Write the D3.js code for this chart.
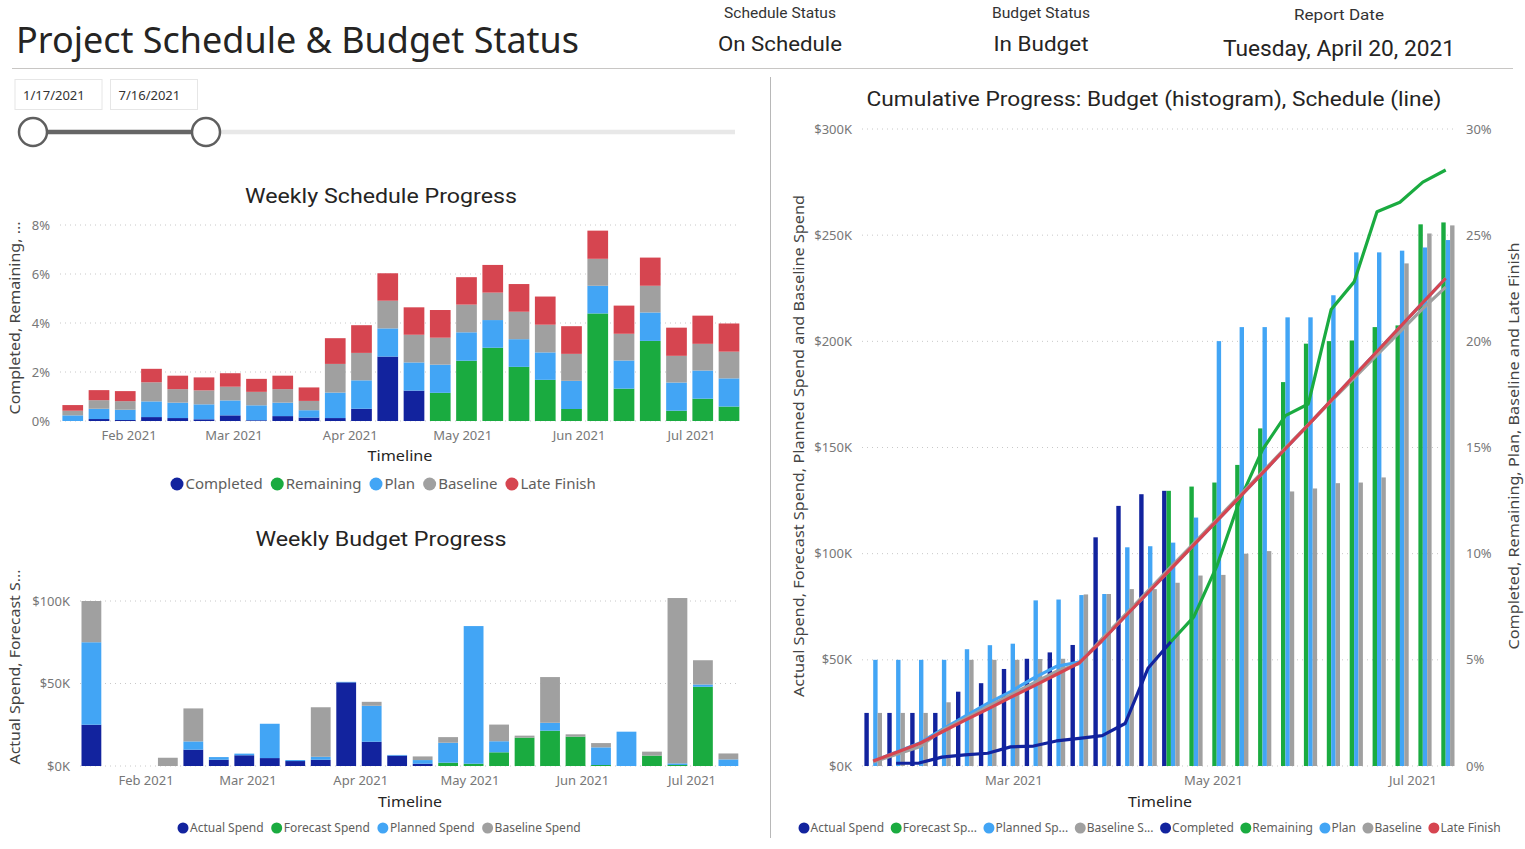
<!DOCTYPE html>
<html><head><meta charset="utf-8">
<script src="https://cdn.jsdelivr.net/npm/d3@7"></script>
<style>
body{margin:0;background:#fff;}
svg{display:block;}
text{font-family:"Segoe UI","Noto Sans",sans-serif;}
.din{font-family:"Roboto","DejaVu Sans Condensed",sans-serif;}
</style></head><body>
<svg id="c" width="1525" height="849"></svg>
<script>
// ---------------- DATA ----------------
const weeks = ["2021-01-17","2021-01-24","2021-01-31","2021-02-07","2021-02-14","2021-02-21","2021-02-28","2021-03-07","2021-03-14","2021-03-21","2021-03-28","2021-04-04","2021-04-11","2021-04-18","2021-04-25","2021-05-02","2021-05-09","2021-05-16","2021-05-23","2021-05-30","2021-06-06","2021-06-13","2021-06-20","2021-06-27","2021-07-04","2021-07-11"];

// Weekly schedule progress (%)
const completedW = [0,0.08,0.04,0.16,0.12,0.07,0.23,0.03,0.2,0.14,0.12,0.5,2.63,1.24,null,null,null,null,null,null,null,null,null,null,null,null];
const remainingW = [null,null,null,null,null,null,null,null,null,null,null,null,null,null,1.15,2.46,2.99,2.21,1.68,0.49,4.39,1.32,3.27,0.42,0.91,0.59];
const planW      = [0.23,0.42,0.42,0.64,0.63,0.61,0.61,0.61,0.55,0.3,1.04,1.16,1.15,1.15,1.15,1.16,1.13,1.13,1.12,1.15,1.13,1.15,1.16,1.15,1.15,1.15];
const baselineW  = [0.19,0.35,0.35,0.78,0.55,0.57,0.56,0.55,0.55,0.38,1.17,1.12,1.13,1.13,1.1,1.13,1.12,1.12,1.13,1.1,1.1,1.09,1.09,1.09,1.09,1.09];
const lateW      = [0.23,0.41,0.41,0.55,0.55,0.53,0.55,0.53,0.55,0.55,1.05,1.13,1.12,1.12,1.13,1.12,1.13,1.13,1.15,1.13,1.15,1.15,1.15,1.15,1.15,1.15];

// Weekly budget progress ($K)
const actualSpendW   = [25,0,0,0,9.9,3.8,6.5,4.8,3,3.8,50.7,14.7,6.3,1.4,null,null,null,null,null,null,null,null,null,null,null,null];
const forecastSpendW = [null,null,null,null,null,null,null,null,null,null,null,null,null,null,2,1.4,8.3,17.2,21.4,17.8,0.6,0,6.3,0.6,48,0];
const plannedSpendW  = [50,0,0,0,5,1.6,1,20.8,0.6,1.8,0.3,21.8,0.4,2.2,12.1,83.4,6.7,0,4.8,0,10.7,20.8,0,1,1.4,4];
const baselineSpendW = [25,0,0,5,20,0,0,0,0,30,0,2.4,0,2.2,3.4,0,10.1,1.2,27.7,1.4,2.6,0,2.4,100.2,14.7,3.6];

// Cumulative budget ($K)
const actualSpendC   = [25,25,25,25,35,39,45.7,50.5,53.5,57,107.7,122.5,128,129.6,null,null,null,null,null,null,null,null,null,null,null,null];
const forecastSpendC = [null,null,null,null,null,null,null,null,null,null,null,null,null,129.6,131.6,133.5,141.8,159,180.8,198.9,200.1,200.4,206.7,207.5,255.1,256];
const plannedSpendC  = [50,50,50,50,55,56.9,57.6,78,78.4,80.5,81,103,103.5,105.2,117,200.1,206.7,206.7,211.3,211.3,221.7,241.9,241.9,242.7,244.2,247.7];
const baselineSpendC = [25,25,25,30,50,50,50,50.4,50.5,80.8,81,83.3,83.3,86.3,89.7,90,100,101.2,129.3,130.7,133.2,133.5,135.9,236.7,250.8,254.6];

// Cumulative schedule (%)
const completedC = [null,0.13,0.14,0.42,0.52,0.6,0.9,0.94,1.18,1.3,1.43,2.0,4.6,5.85,null,null,null,null,null,null,null,null,null,null,null,null];
const remainingC = [null,null,null,null,null,null,null,null,null,null,null,null,null,5.85,7.02,9.4,12.5,14.9,16.5,17.05,21.5,22.8,26.1,26.55,27.5,28.07];
const planC      = [0.23,0.65,1.07,1.71,2.34,2.95,3.5,4.14,4.69,4.9,5.91,7.04,8.16,9.28,10.41,11.53,12.66,13.79,14.94,16.07,17.22,18.37,19.52,20.67,21.82,22.97];
const baselineC  = [0.19,0.54,0.89,1.67,2.22,2.79,3.35,3.9,4.45,4.83,6.0,7.12,8.25,9.38,10.48,11.61,12.73,13.85,14.98,16.08,17.18,18.27,19.36,20.45,21.54,22.55];
const lateC      = [0.23,0.64,1.05,1.6,2.15,2.68,3.23,3.76,4.31,4.86,5.91,7.04,8.16,9.28,10.41,11.53,12.66,13.79,14.94,16.07,17.22,18.37,19.52,20.67,21.82,22.97];

const schedTicks = [0,2,4,6,8];
const budgetTicks = [0,50,100];
const cumLeftTicks = [0,50,100,150,200,250,300];
const cumRightTicks = [0,5,10,15,20,25,30];

const C = {dark:"#12239E", green:"#1AAB40", blue:"#42A5F5", gray:"#A0A0A0", red:"#D64550"};

// ---------------- HELPERS ----------------
const svg = d3.select("#c");
svg.append("rect").attr("width",1525).attr("height",849).attr("fill","#fff");
const parse = d3.timeParse("%Y-%m-%d");
const dates = weeks.map(parse);
const fmtMonth = d3.timeFormat("%b %Y");

function fit(sel, w){ sel.attr("textLength", w).attr("lengthAdjust","spacingAndGlyphs"); return sel; }
function txt(x,y,s,size,fill,anchor,cls){
  const t = svg.append("text").attr("x",x).attr("y",y).attr("font-size",size).attr("fill",fill)
    .attr("text-anchor",anchor||"start").text(s);
  if(cls) t.attr("class",cls);
  return t;
}
function legend(items, x0, y, fs, r, tOff, gap){
  let x = x0;
  items.forEach(it=>{
    svg.append("circle").attr("cx",x).attr("cy",y).attr("r",r).attr("fill",it.color);
    const t = svg.append("text").attr("x",x+tOff).attr("y",y).attr("dy","0.35em")
      .attr("font-size",fs).attr("fill","#605E5C").text(it.label);
    x = x + tOff + t.node().getComputedTextLength() + gap;
  });
}
function vtitle(x, yc, s, size, len){
  const t = svg.append("text").attr("transform",`translate(${x},${yc}) rotate(-90)`)
    .attr("text-anchor","middle").attr("dominant-baseline","central")
    .attr("font-size",size).attr("fill","#444").text(s);
  if(len) fit(t,len);
}
function grid(ys, x1, x2){
  ys.forEach(y=>svg.append("line").attr("x1",x1).attr("x2",x2).attr("y1",y).attr("y2",y)
    .attr("stroke","#c8c8c8").attr("stroke-width",1).attr("stroke-dasharray","1,4"));
}

// ---------------- HEADER ----------------
fit(txt(16,53,"Project Schedule & Budget Status",37,"#252423"),563);
fit(txt(780,18,"Schedule Status",14,"#333","middle","din"),112);
fit(txt(780,51,"On Schedule",21,"#252423","middle","din"),124);
fit(txt(1041,18,"Budget Status",14,"#333","middle","din"),98);
fit(txt(1041,51,"In Budget",21,"#252423","middle","din"),95);
fit(txt(1339,20,"Report Date",14,"#333","middle","din"),90);
fit(txt(1339,56,"Tuesday, April 20, 2021",22,"#252423","middle","din"),232);
svg.append("line").attr("x1",12).attr("x2",1513).attr("y1",68.5).attr("y2",68.5).attr("stroke","#c8c6c4").attr("stroke-width",1.2);
svg.append("line").attr("x1",770.5).attr("x2",770.5).attr("y1",77).attr("y2",838).attr("stroke","#b8b8b8").attr("stroke-width",1);

// slider
[[15,"1/17/2021"],[110.5,"7/16/2021"]].forEach(([x,s])=>{
  svg.append("rect").attr("x",x).attr("y",79.5).attr("width",87).attr("height",30).attr("fill","#fff").attr("stroke","#e6e6e6");
  txt(x+8,100,s,13,"#333");
});
svg.append("line").attr("x1",206).attr("x2",735).attr("y1",132).attr("y2",132).attr("stroke","#e8e8e8").attr("stroke-width",4.5);
svg.append("line").attr("x1",33).attr("x2",206).attr("y1",132).attr("y2",132).attr("stroke","#666").attr("stroke-width",4.5);
[33,206].forEach(x=>svg.append("circle").attr("cx",x).attr("cy",132).attr("r",14).attr("fill","#fff").attr("stroke","#5f5f5f").attr("stroke-width",2.5));

// ---------------- WEEKLY SCHEDULE ----------------
fit(txt(381,203,"Weekly Schedule Progress",21,"#252423","middle","din"),272);
const xS = d3.scaleTime().domain(d3.extent(dates)).range([72.75,729]);
const yS = d3.scaleLinear().domain([0,8]).range([421,225]);
grid(schedTicks.map(yS),60,738);
schedTicks.forEach(t=>txt(50,yS(t)+4.5,t+"%",13,"#777","end"));
xS.ticks(d3.timeMonth.every(1)).forEach(t=>txt(xS(t),440,fmtMonth(t),13,"#777","middle"));
fit(txt(400,461,"Timeline",15,"#252423","middle"),65);
vtitle(14,318,"Completed, Remaining, ...",15,193);

const schedKeys = ["completed","remaining","plan","baseline","late"];
const schedColors = [C.dark,C.green,C.blue,C.gray,C.red];
const schedRows = dates.map((d,i)=>({date:d,completed:completedW[i]||0,remaining:remainingW[i]||0,plan:planW[i]||0,baseline:baselineW[i]||0,late:lateW[i]||0}));
d3.stack().keys(schedKeys)(schedRows).forEach((layer,k)=>{
  svg.append("g").selectAll("rect").data(layer).join("rect")
    .attr("x",d=>xS(d.data.date)-10.35).attr("width",20.7)
    .attr("y",d=>yS(d[1])).attr("height",d=>Math.max(0,yS(d[0])-yS(d[1])))
    .attr("fill",schedColors[k]);
});
legend([{label:"Completed",color:C.dark},{label:"Remaining",color:C.green},{label:"Plan",color:C.blue},{label:"Baseline",color:C.gray},{label:"Late Finish",color:C.red}],177,484,15,6.5,8.5,14.5);

// ---------------- WEEKLY BUDGET ----------------
fit(txt(381,546,"Weekly Budget Progress",21,"#252423","middle","din"),251);
const xB = d3.scaleTime().domain(d3.extent(dates)).range([91.4,728.4]);
const yB = d3.scaleLinear().domain([0,100]).range([766,601]);
grid(budgetTicks.map(yB),80,736);
budgetTicks.forEach(t=>txt(70,yB(t)+4.5,"$"+t+"K",13,"#777","end"));
xB.ticks(d3.timeMonth.every(1)).forEach(t=>txt(xB(t),785,fmtMonth(t),13,"#777","middle"));
fit(txt(410,807,"Timeline",15,"#252423","middle"),64);
vtitle(14,667,"Actual Spend, Forecast S...",15,195);

const budKeys = ["actual","forecast","planned","baseline"];
const budColors = [C.dark,C.green,C.blue,C.gray];
const budRows = dates.map((d,i)=>({date:d,actual:actualSpendW[i]||0,forecast:forecastSpendW[i]||0,planned:plannedSpendW[i]||0,baseline:baselineSpendW[i]||0}));
d3.stack().keys(budKeys)(budRows).forEach((layer,k)=>{
  svg.append("g").selectAll("rect").data(layer).join("rect")
    .attr("x",d=>xB(d.data.date)-9.9).attr("width",19.8)
    .attr("y",d=>yB(d[1])).attr("height",d=>Math.max(0,yB(d[0])-yB(d[1])))
    .attr("fill",budColors[k]);
});
legend([{label:"Actual Spend",color:C.dark},{label:"Forecast Spend",color:C.green},{label:"Planned Spend",color:C.blue},{label:"Baseline Spend",color:C.gray}],183,828,12,5.5,7,13);

// ---------------- CUMULATIVE ----------------
fit(txt(1154,106,"Cumulative Progress: Budget (histogram), Schedule (line)",21,"#252423","middle","din"),575);
const xR = d3.scaleTime().domain(d3.extent(dates)).range([873.2,1445.7]);
const yL = d3.scaleLinear().domain([0,300]).range([766,129]);
const yR = d3.scaleLinear().domain([0,30]).range([766,129]);
grid(cumLeftTicks.map(yL),862,1457);
cumLeftTicks.forEach(t=>txt(852,yL(t)+4.5,"$"+t+"K",13,"#777","end"));
cumRightTicks.forEach(t=>txt(1466,yR(t)+4.5,t+"%",13,"#777","start"));
xR.ticks(d3.timeMonth.every(2)).forEach(t=>txt(xR(t),785,fmtMonth(t),13,"#777","middle"));
fit(txt(1160,807,"Timeline",15,"#252423","middle"),64);
vtitle(798,446,"Actual Spend, Forecast Spend, Planned Spend and Baseline Spend",15,502);
vtitle(1513,446,"Completed, Remaining, Plan, Baseline and Late Finish",15,407);

const cumBars = [
  {key:"actual",vals:actualSpendC,color:C.dark},
  {key:"forecast",vals:forecastSpendC,color:C.green},
  {key:"planned",vals:plannedSpendC,color:C.blue},
  {key:"baseline",vals:baselineSpendC,color:C.gray}];
const inner = d3.scaleBand().domain(cumBars.map(d=>d.key)).range([-8.8,8.8]).padding(0);
cumBars.forEach(s=>{
  const pts = dates.map((d,i)=>({d,v:s.vals[i]})).filter(p=>p.v!=null);
  svg.append("g").selectAll("rect").data(pts).join("rect")
    .attr("x",p=>xR(p.d)+inner(s.key)).attr("width",inner.bandwidth())
    .attr("y",p=>yL(p.v)).attr("height",p=>yL(0)-yL(p.v)).attr("fill",s.color);
});
const cumLines = [
  {vals:completedC,color:C.dark},
  {vals:remainingC,color:C.green},
  {vals:planC,color:C.blue},
  {vals:baselineC,color:C.gray},
  {vals:lateC,color:C.red}];
cumLines.forEach(s=>{
  const line = d3.line().defined(p=>p.v!=null).x(p=>xR(p.d)).y(p=>yR(p.v));
  svg.append("path").datum(dates.map((d,i)=>({d,v:s.vals[i]})))
    .attr("d",line).attr("fill","none").attr("stroke",s.color).attr("stroke-width",3.2)
    .attr("stroke-linejoin","round").attr("stroke-linecap","butt");
});
legend([{label:"Actual Spend",color:C.dark},{label:"Forecast Sp...",color:C.green},{label:"Planned Sp...",color:C.blue},{label:"Baseline S...",color:C.gray},{label:"Completed",color:C.dark},{label:"Remaining",color:C.green},{label:"Plan",color:C.blue},{label:"Baseline",color:C.gray},{label:"Late Finish",color:C.red}],804,828,12,5.5,6.5,12);
</script>
</body></html>
